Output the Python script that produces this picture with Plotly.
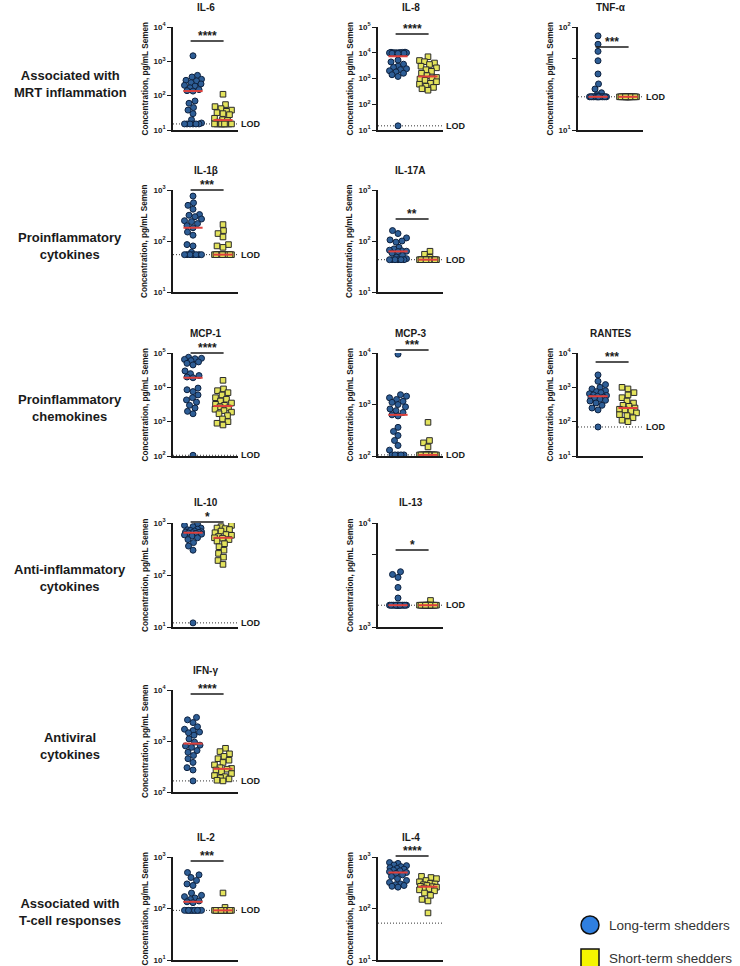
import numpy as np
import plotly.graph_objects as go

# ---------------- data ----------------
cytokines = ["IL-6", "IL-8", "TNF-α", "IL-1β", "IL-17A", "MCP-1", "MCP-3",
             "RANTES", "IL-10", "IL-13", "IFN-γ", "IL-2", "IL-4"]
stars = ["****", "****", "***", "***", "**", "****", "***", "***", "*", "*",
         "****", "***", "****"]
lod = [15, 14.5, 21, 54, 43, 105, 105, 70, 12, 1620, 165, 92, 52]
y_lo_exp = [1, 1, 1, 1, 1, 2, 2, 1, 1, 3, 2, 1, 1]
y_hi_exp = [4, 5, 2, 3, 3, 5, 4, 4, 3, 4, 4, 3, 3]
show_lod_text = [True, True, True, True, True, True, True, True, True, True, True, True, False]
group_names = ["Long-term shedders", "Short-term shedders"]
row_labels = ["Associated with<br>MRT inflammation", "Proinflammatory<br>cytokines",
              "Proinflammatory<br>chemokines", "Anti-inflammatory<br>cytokines",
              "Antiviral<br>cytokines", "Associated with<br>T-cell responses"]

il6_long = [1450, 390, 350, 300, 280, 270, 240, 220, 200, 190, 170, 150, 140, 136,
            70, 60, 45, 38, 30, 20, 16, 15, 15, 15, 15, 15, 15]
il6_short = [110, 55, 48, 42, 38, 35, 32, 30, 28, 22, 20, 19, 17, 15, 15, 15, 15,
             15, 15, 15, 15, 15]
il8_long = [10500, 10400, 10300, 10200, 10100, 10000, 10000, 9900, 9800, 9700, 9600,
            9500, 9400, 5200, 4400, 3600, 3000, 2700, 2400, 2200, 2000, 1800, 1600,
            1400, 1200, 14.5]
il8_short = [7000, 5000, 4500, 4000, 3500, 3000, 2600, 2200, 1900, 1600, 1300, 1100,
             1050, 950, 850, 750, 650, 600, 500, 450, 400, 350]
tnfa_long = [82, 68, 58, 47, 35, 28, 25, 23, 22, 21, 21, 21, 21, 21, 21, 21, 21, 21,
             21, 21, 21, 21, 21, 21]
tnfa_short = [21] * 20
il1b_long = [760, 560, 500, 420, 330, 320, 300, 270, 250, 240, 220, 200, 182, 150,
             130, 85, 80, 60, 54, 54, 54, 54, 54, 54, 54]
il1b_short = [210, 160, 140, 120, 85, 80, 75, 54, 54, 54, 54, 54, 54, 54, 54, 54,
              54, 54, 54, 54, 54]
il17a_long = [160, 140, 115, 105, 100, 95, 75, 70, 66, 64, 63, 62, 58, 52, 48, 45,
              43, 43, 43, 43, 43, 43]
il17a_short = [63, 55, 48] + [43] * 18
mcp1_long = [75000, 70000, 68000, 65000, 60000, 55000, 50000, 45000, 30000, 25000,
             22000, 20000, 19000, 9500, 8500, 7500, 6000, 5000, 4300, 3700, 3000,
             2500, 2000, 1700, 105]
mcp1_short = [16000, 9000, 8000, 7000, 6000, 5000, 4500, 4000, 3500, 3200, 3000,
              2700, 2500, 2300, 2100, 1900, 1700, 1500, 1200, 1000, 900, 800]
mcp3_long = [9500, 1550, 1450, 1350, 1250, 1150, 1100, 1000, 900, 820, 760, 700, 630,
             600, 360, 300, 250, 200, 160, 130, 105, 105, 105, 105, 105]
mcp3_short = [450, 200, 180, 150] + [105] * 18
rantes_long = [2300, 1500, 1200, 1000, 900, 800, 750, 700, 650, 600, 580, 550, 520,
               500, 480, 450, 420, 400, 350, 300, 250, 220, 70]
rantes_short = [1000, 900, 700, 600, 500, 400, 350, 300, 280, 250, 230, 220, 200, 180,
                160, 150, 130, 110, 100]
il10_long = [950, 900, 850, 800, 760, 740, 720, 700, 680, 670, 660, 650, 640, 630,
             610, 590, 560, 520, 480, 420, 360, 300, 12]
il10_short = [900, 850, 800, 780, 750, 700, 650, 600, 580, 550, 520, 510, 480, 450,
              400, 350, 300, 260, 220, 190, 160]
il13_long = [3400, 3200, 3000, 2400, 1900] + [1620] * 19
il13_short = [1800] + [1620] * 20
ifng_long = [2900, 2600, 2300, 1900, 1700, 1600, 1500, 1450, 1300, 1100, 950, 830,
             800, 750, 650, 600, 520, 450, 380, 300, 270, 165]
ifng_short = [720, 620, 560, 500, 450, 420, 380, 340, 300, 290, 280, 270, 250, 230,
              210, 200, 190, 180, 170, 165]
il2_long = [500, 450, 400, 350, 300, 280, 200, 180, 170, 160, 150, 140, 135, 130,
            92, 92, 92, 92, 92, 92, 92, 92, 92, 92, 92]
il2_short = [200, 105] + [92] * 18
il4_long = [780, 750, 700, 680, 650, 620, 600, 580, 560, 540, 520, 500, 480, 450,
            420, 380, 350, 320, 300, 290, 280, 270, 260]
il4_short = [420, 400, 380, 350, 330, 310, 300, 290, 280, 270, 265, 260, 250, 240,
             230, 220, 200, 180, 150, 140, 82]

long_sets = [il6_long, il8_long, tnfa_long, il1b_long, il17a_long, mcp1_long,
             mcp3_long, rantes_long, il10_long, il13_long, ifng_long, il2_long, il4_long]
short_sets = [il6_short, il8_short, tnfa_short, il1b_short, il17a_short, mcp1_short,
              mcp3_short, rantes_short, il10_short, il13_short, ifng_short, il2_short,
              il4_short]

# ---------------- layout (pixels) ----------------
W, H = 740, 966
panel_row = [0, 0, 0, 1, 1, 2, 2, 2, 3, 3, 4, 5, 5]
panel_col = [0, 1, 2, 0, 1, 0, 1, 2, 0, 1, 0, 0, 1]
col_x = [173, 378, 578]
row_top = [27, 190, 353, 523, 690, 857]
row_bot = [130, 292, 456, 627, 792, 960]
axis_w = 65
bar_px = [41, 34, 47, 190, 219, 353, 350, 362, 522, 550, 694, 861, 856]
row_label_y = [84, 246, 408, 578, 746, 912]
XR = [-0.667, 1.5]

BLUE = "#2e5e96"
BLUE_EDGE = "#0e2240"
YELLOW = "#e3e35c"
YELLOW_EDGE = "#2a2a2a"
RED = "#e0413c"
INK = "#1a1a1a"
FONT = "Arial, Liberation Sans, sans-serif"


def swarm(vals, lo, hi, hpx, d=6.0, cap=8.5):
    ys = (np.log10(np.asarray(vals, float)) - lo) / (hi - lo) * hpx
    order = np.argsort(ys, kind="stable")
    cands = sorted(np.arange(-cap, cap + 0.001, 0.5), key=lambda c: (abs(c), c))
    offs = np.zeros(len(ys))
    placed = []
    for i in order:
        best, best_score, cand_best = None, -1, 0.0
        for c in cands:
            if not placed:
                best = c
                break
            md = min((c - offs[j]) ** 2 + (ys[i] - ys[j]) ** 2 for j in placed)
            if md >= d * d:
                best = c
                break
            if md > best_score + 1e-9:
                best_score, cand_best = md, c
        if best is None:
            best = cand_best
        offs[i] = best
        placed.append(i)
    return offs


fig = go.Figure()
layout = dict(width=W, height=H, margin=dict(l=0, r=0, t=0, b=0),
              paper_bgcolor="white", plot_bgcolor="white", showlegend=False,
              font=dict(family=FONT, color=INK))
annotations = []
shapes = []
ppu = axis_w / (XR[1] - XR[0])

for k, name in enumerate(cytokines):
    r, c = panel_row[k], panel_col[k]
    x0p, x1p = col_x[c], col_x[c] + axis_w
    y0p, y1p = row_top[r], row_bot[r]
    sfx = "" if k == 0 else str(k + 1)
    xa, ya = "x" + sfx, "y" + sfx
    lo, hi = y_lo_exp[k], y_hi_exp[k]
    hpx = y1p - y0p
    layout["xaxis" + sfx] = dict(domain=[x0p / W, x1p / W], range=XR, anchor=ya,
                                 showline=True, linecolor=INK, linewidth=1.5,
                                 ticks="", showticklabels=False, showgrid=False,
                                 zeroline=False, fixedrange=True)
    tv = [10 ** e for e in range(lo, hi + 1)]
    tt = ["10<sup>%d</sup>" % e for e in range(lo, hi + 1)]
    ydict = dict(domain=[1 - y1p / H, 1 - y0p / H], type="log", range=[lo, hi],
                 anchor=xa, showline=True, linecolor=INK, linewidth=1.5,
                 ticks="outside", ticklen=4, tickwidth=1.2, tickcolor=INK,
                 tickvals=tv, ticktext=tt, showgrid=False, zeroline=False,
                 tickfont=dict(size=8, family=FONT, color=INK, weight="bold"),
                 automargin=False, fixedrange=True)
    if hi - lo == 1:
        ydict["minor"] = dict(tickvals=[5 * 10 ** lo], ticks="outside", ticklen=4,
                              tickcolor=INK, tickwidth=1.2)
    layout["yaxis" + sfx] = ydict

    # LOD dotted line
    fig.add_trace(go.Scatter(x=[XR[0], XR[1]], y=[lod[k], lod[k]], mode="lines",
                             line=dict(color="#333", width=1, dash="1px,2px"),
                             xaxis=xa, yaxis=ya, hoverinfo="skip"))
    # points
    for g, (vals, sym, fc, ec) in enumerate([(long_sets[k], "circle", BLUE, BLUE_EDGE),
                                             (short_sets[k], "square", YELLOW, YELLOW_EDGE)]):
        offs = swarm(vals, lo, hi, hpx)
        xs = g + offs / ppu
        fig.add_trace(go.Scatter(x=xs, y=vals, mode="markers", xaxis=xa, yaxis=ya,
                                 marker=dict(symbol=sym, size=6 if g == 0 else 5.6,
                                             color=fc, line=dict(color=ec, width=1)),
                                 name=group_names[g]))
    # medians
    for g, vals in enumerate([long_sets[k], short_sets[k]]):
        m = float(np.median(vals))
        fig.add_trace(go.Scatter(x=[g - 0.32, g + 0.32], y=[m, m], mode="lines",
                                 line=dict(color=RED, width=2), xaxis=xa, yaxis=ya,
                                 hoverinfo="skip"))
    # title
    annotations.append(dict(text="<b>%s</b>" % name, xref=xa + " domain", yref="paper",
                            x=0.5, y=1 - (y0p - 20) / H, showarrow=False,
                            font=dict(size=10, family=FONT, color=INK),
                            xanchor="center", yanchor="middle"))
    # y axis title
    annotations.append(dict(text="<b>Concentration, pg/mL Semen</b>", xref="paper",
                            yref="paper", x=(x0p - 28) / W, y=1 - (y0p + y1p) / 2 / H,
                            textangle=-90, showarrow=False,
                            font=dict(size=8.2, family=FONT, color=INK),
                            xanchor="center", yanchor="middle"))
    # LOD label
    if show_lod_text[k]:
        frac = (np.log10(lod[k]) - lo) / (hi - lo)
        annotations.append(dict(text="<b>LOD</b>", xref=xa + " domain", yref=ya + " domain",
                                x=1.0, y=frac, xanchor="left", yanchor="middle",
                                xshift=1, showarrow=False,
                                font=dict(size=9, family=FONT, color=INK)))
    # significance bar
    bfrac = 1 - (bar_px[k] - y0p) / hpx
    shapes.append(dict(type="line", xref=xa, yref=ya + " domain", x0=-0.08, x1=1.02,
                       y0=bfrac, y1=bfrac, line=dict(color=INK, width=1.5)))
    annotations.append(dict(text="<b>%s</b>" % stars[k], xref=xa, yref=ya + " domain",
                            x=0.47, y=bfrac, xanchor="center", yanchor="bottom",
                            yshift=-4, showarrow=False,
                            font=dict(size=12, family=FONT, color=INK)))

# row labels
for i, t in enumerate(row_labels):
    annotations.append(dict(text="<b>%s</b>" % t, xref="paper", yref="paper",
                            x=70 / W, y=1 - row_label_y[i] / H, showarrow=False,
                            xanchor="center", yanchor="middle",
                            font=dict(size=13, family=FONT, color=INK)))

# legend (drawn manually)
leg_x, leg_y = [590, 590], [925, 958]
rad = 9
shapes.append(dict(type="circle", xref="paper", yref="paper",
                   x0=(leg_x[0] - rad) / W, x1=(leg_x[0] + rad) / W,
                   y0=1 - (leg_y[0] + rad) / H, y1=1 - (leg_y[0] - rad) / H,
                   fillcolor="#2f7fe0", line=dict(color="#111", width=1.5)))
shapes.append(dict(type="rect", xref="paper", yref="paper",
                   x0=(leg_x[1] - rad) / W, x1=(leg_x[1] + rad) / W,
                   y0=1 - (leg_y[1] + rad) / H, y1=1 - (leg_y[1] - rad) / H,
                   fillcolor="#f5f500", line=dict(color="#111", width=1.5)))
for i in range(2):
    annotations.append(dict(text=group_names[i], xref="paper", yref="paper",
                            x=(leg_x[i] + 17) / W, y=1 - leg_y[i] / H, showarrow=False,
                            xanchor="left", yanchor="middle",
                            font=dict(size=13.5, family=FONT, color="#333")))

layout["annotations"] = annotations
layout["shapes"] = shapes
fig.update_layout(**layout)
fig.write_html("out.html", config={"displayModeBar": False},
               post_script="document.body.style.margin='0';document.body.style.overflow='hidden';")
